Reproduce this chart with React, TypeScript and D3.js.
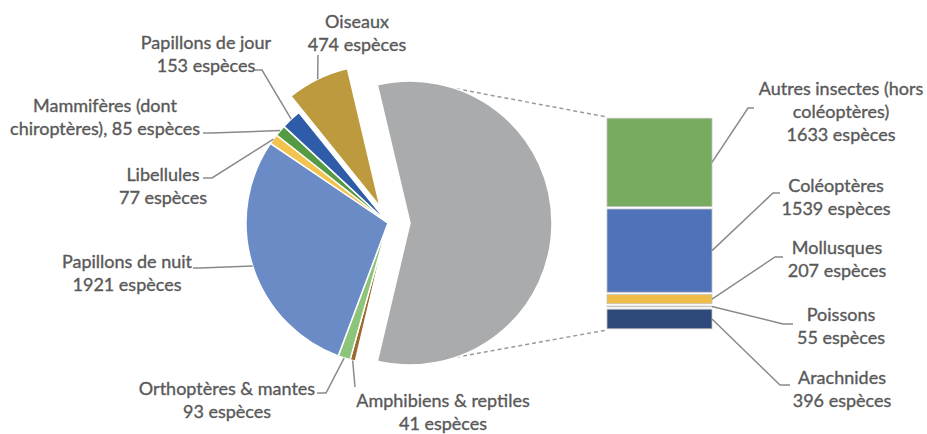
import React from 'react'
import * as d3 from 'd3'

// pie part, in drawing order (clockwise after the "other" slice)
const pieNames = ['Amphibiens & reptiles', 'Orthoptères & mantes', 'Papillons de nuit', 'Libellules', 'Mammifères', 'Papillons de jour', 'Oiseaux']
const pieValues = [41, 93, 1921, 77, 85, 153, 474]
const pieColors = ['#9b6a2f', '#8cc47a', '#6b8bc6', '#f3c34f', '#559a44', '#2f5ca8', '#be9a3e']
const pieLabels = [
  ['Amphibiens & reptiles', '41 espèces'],
  ['Orthoptères & mantes', '93 espèces'],
  ['Papillons de nuit', '1921 espèces'],
  ['Libellules', '77 espèces'],
  ['Mammifères (dont', 'chiroptères), 85 espèces'],
  ['Papillons de jour', '153 espèces'],
  ['Oiseaux', '474 espèces'],
]

// bar part (the "other" slice split up), top to bottom
const barNames = ['Autres insectes', 'Coléoptères', 'Mollusques', 'Poissons', 'Arachnides']
const barValues = [1633, 1539, 207, 55, 396]
const barColors = ['#78ab5f', '#4e73b9', '#f0bd48', '#f2f2f2', '#2e4a7b']
const barLabels = [
  ['Autres insectes (hors', 'coléoptères)', '1633 espèces'],
  ['Coléoptères', '1539 espèces'],
  ['Mollusques', '207 espèces'],
  ['Poissons', '55 espèces'],
  ['Arachnides', '396 espèces'],
]

// layout
const W = 927
const H = 434
const cx = 388
const cy = 223
const R = 142
const otherColor = '#a9abad'
const otherExplode = 22
const explode = [0, 0, 0, 0, 0, 0, 18]
const barX0 = 607
const barX1 = 712
const barTop = 117
const barBottom = 330
const lineH = 23
const textColor = '#595959'
const leaderColor = '#8a8a8a'

// label centre (first line) and leader elbow / end
const pieLabelPos = [
  { x: 443, y: 400, elbow: null, end: [355, 387] },
  { x: 227, y: 388, elbow: [326, 393], end: [317, 393] },
  { x: 127, y: 261, elbow: [200, 268], end: [193, 268] },
  { x: 163, y: 174, elbow: [212, 178], end: [203, 178] },
  { x: 105, y: 105, elbow: [211, 133], end: [203, 133] },
  { x: 206, y: 42, elbow: [262, 70], end: [254, 70] },
  { x: 357, y: 21, elbow: null, end: [318, 55] },
]
const barLabelPos = [
  { x: 841, y: 88, elbow: [748, 108], end: [754, 108] },
  { x: 836, y: 185, elbow: [773, 193], end: [780, 193] },
  { x: 837, y: 247, elbow: [775, 257], end: [783, 257] },
  { x: 841, y: 314, elbow: [783, 324], end: [793, 324] },
  { x: 842, y: 377, elbow: [780, 385], end: [790, 385] },
]

const font = 'Lato, "Noto Sans", sans-serif'

function Label({ lines, x, y }: { lines: string[]; x: number; y: number }) {
  return (
    <text
      x={x}
      y={y}
      textAnchor="middle"
      dominantBaseline="central"
      fill={textColor}
      stroke={textColor}
      strokeWidth={0.35}
      fontSize={18}
      style={{ fontFamily: font }}
    >
      {lines.map((l, i) => (
        <tspan key={i} x={x} y={y + i * lineH}>
          {l}
        </tspan>
      ))}
    </text>
  )
}

export default function App() {
  const otherTotal = d3.sum(barValues)
  const total = d3.sum(pieValues) + otherTotal
  const otherAngle = (2 * Math.PI * otherTotal) / total
  const start = Math.PI / 2 - otherAngle / 2

  const pieGen = d3
    .pie<number>()
    .sort(null)
    .value((d) => d)
    .startAngle(start)
    .endAngle(start + 2 * Math.PI)
  const arcs = pieGen([otherTotal, ...pieValues])
  const arc = d3.arc<d3.PieArcDatum<number>>().innerRadius(0).outerRadius(R)

  const offset = (a: d3.PieArcDatum<number>, d: number) => {
    const m = (a.startAngle + a.endAngle) / 2
    return [Math.sin(m) * d, -Math.cos(m) * d]
  }
  const edgePoint = (a: d3.PieArcDatum<number>, d: number) => {
    const m = (a.startAngle + a.endAngle) / 2
    const [ox, oy] = offset(a, d)
    return [cx + ox + Math.sin(m) * R, cy + oy - Math.cos(m) * R]
  }

  const y = d3.scaleLinear().domain([0, otherTotal]).range([barTop, barBottom])
  const stacked = d3.cumsum(barValues)
  const barSegs = barValues.map((v, i) => ({ y0: y(stacked[i] - v), y1: y(stacked[i]) }))

  const other = arcs[0]
  const [gx, gy] = offset(other, otherExplode)
  const conn = (19 * Math.PI) / 180
  const dashTop = [cx + gx + Math.sin(conn) * R, cy + gy - Math.cos(conn) * R]
  const dashBot = [cx + gx + Math.sin(Math.PI - conn) * R, cy + gy - Math.cos(Math.PI - conn) * R]

  const line = d3.line()

  return (
    <svg width={W} height={H} style={{ position: 'absolute', left: 0, top: 0, background: '#fff' }}>
      {/* connector lines */}
      <path
        d={line([dashTop as [number, number], [barX0, barTop]]) || ''}
        stroke="#9a9a9a"
        strokeWidth={1.5}
        strokeDasharray="4 3"
        fill="none"
      />
      <path
        d={line([dashBot as [number, number], [barX0, barBottom]]) || ''}
        stroke="#9a9a9a"
        strokeWidth={1.5}
        strokeDasharray="4 3"
        fill="none"
      />

      {/* pie */}
      {arcs.map((a, i) => {
        const [ox, oy] = i === 0 ? [gx, gy] : offset(a, explode[i - 1])
        return (
          <path
            key={i}
            d={arc(a) || ''}
            transform={`translate(${cx + ox},${cy + oy})`}
            fill={i === 0 ? otherColor : pieColors[i - 1]}
            stroke="#fff"
            strokeWidth={1.5}
            strokeLinejoin="round"
          >
            <title>{i === 0 ? 'Autres' : pieNames[i - 1]}</title>
          </path>
        )
      })}

      {/* bar of other */}
      {barSegs.map((s, i) => (
        <rect
          key={i}
          x={barX0}
          y={s.y0 + 1.2}
          width={barX1 - barX0}
          height={Math.max(0.5, s.y1 - s.y0 - 2.4)}
          fill={barColors[i]}
          stroke="#c4c4c4"
          strokeWidth={0.8}
        >
          <title>{barNames[i]}</title>
        </rect>
      ))}

      {/* pie leaders + labels */}
      {pieLabelPos.map((p, i) => {
        const pts = [edgePoint(arcs[i + 1], explode[i])]
        if (p.elbow) pts.push(p.elbow)
        pts.push(p.end)
        return (
          <path key={'pl' + i} d={line(pts as [number, number][]) || ''} stroke={leaderColor} strokeWidth={1.5} fill="none" />
        )
      })}
      {pieLabelPos.map((p, i) => (
        <Label key={'pt' + i} lines={pieLabels[i]} x={p.x} y={p.y} />
      ))}

      {/* bar leaders + labels */}
      {barLabelPos.map((p, i) => {
        const pts = [[barX1, (barSegs[i].y0 + barSegs[i].y1) / 2], p.elbow, p.end]
        return (
          <path key={'bl' + i} d={line(pts as [number, number][]) || ''} stroke={leaderColor} strokeWidth={1.5} fill="none" />
        )
      })}
      {barLabelPos.map((p, i) => (
        <Label key={'bt' + i} lines={barLabels[i]} x={p.x} y={p.y} />
      ))}
    </svg>
  )
}
